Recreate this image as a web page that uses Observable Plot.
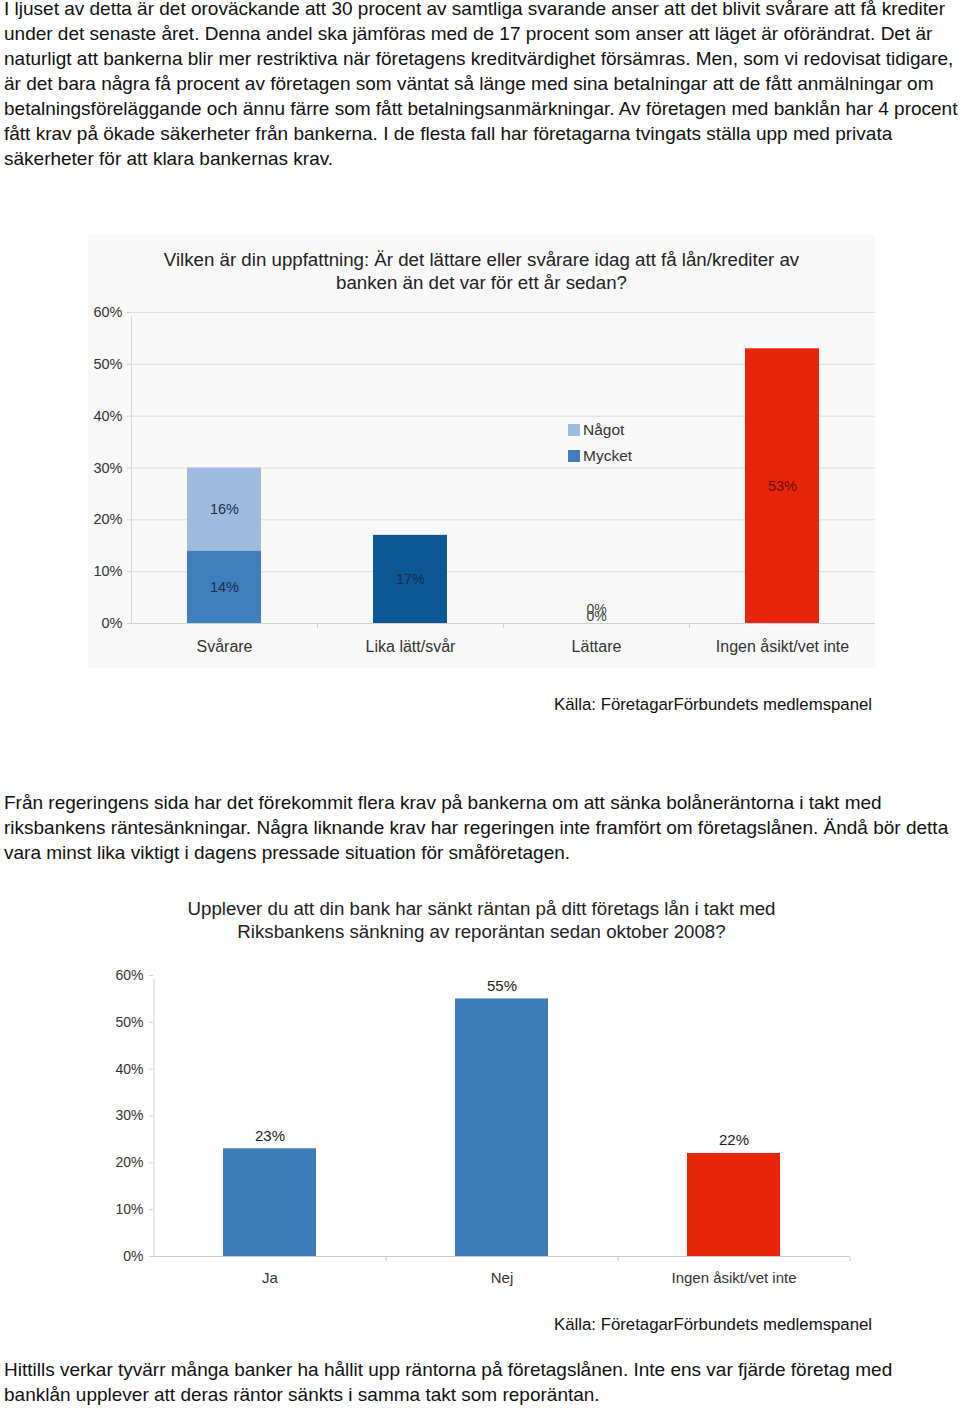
<!DOCTYPE html>
<html>
<head>
<meta charset="utf-8">
<script src="https://cdn.jsdelivr.net/npm/d3@7"></script>
<script src="https://cdn.jsdelivr.net/npm/@observablehq/plot@0.6"></script>
<style>
  html, body { margin: 0; padding: 0; background: #fff; }
  body { position: relative; width: 960px; height: 1410px; overflow: hidden;
         font-family: "Liberation Sans", Arial, Helvetica, sans-serif; color: #111; }
  .para { position: absolute; left: 4px; font-size: 19px; line-height: 25px; white-space: nowrap; }
  .src { position: absolute; left: 554px; font-size: 16.8px; line-height: 20px; white-space: nowrap; color: #111; }
  .title { position: absolute; left: 88px; width: 787px; text-align: center; font-size: 18.7px; line-height: 23px; color: #222; white-space: nowrap; }
  .chartbox { position: absolute; }
  .legend { position: absolute; font-size: 15.5px; color: #333; line-height: 20px; }
  .legend .item { display: flex; align-items: center; height: 26px; }
  .legend .sw { width: 12px; height: 12px; margin-right: 3px; display: inline-block; }
</style>
</head>
<body>
<div class="para" style="top:-4px">
I ljuset av detta är det oroväckande att 30 procent av samtliga svarande anser att det blivit svårare att få krediter<br>
under det senaste året. Denna andel ska jämföras med de 17 procent som anser att läget är oförändrat. Det är<br>
naturligt att bankerna blir mer restriktiva när företagens kreditvärdighet försämras. Men, som vi redovisat tidigare,<br>
är det bara några få procent av företagen som väntat så länge med sina betalningar att de fått anmälningar om<br>
betalningsföreläggande och ännu färre som fått betalningsanmärkningar. Av företagen med banklån har 4 procent<br>
fått krav på ökade säkerheter från bankerna. I de flesta fall har företagarna tvingats ställa upp med privata<br>
säkerheter för att klara bankernas krav.
</div>

<div style="position:absolute; left:88px; top:235px; width:787px; height:433px; background:#f9f9f9;"></div>
<div class="title" style="top:248px">Vilken är din uppfattning: Är det lättare eller svårare idag att få lån/krediter av<br>banken än det var för ett år sedan?</div>
<div id="chart1" class="chartbox" style="left:88px; top:295px;"></div>
<div class="legend" id="legend1" style="left:568px; top:417px;"></div>
<div class="src" style="top:695px">Källa: FöretagarFörbundets medlemspanel</div>

<div class="para" style="top:790px">
Från regeringens sida har det förekommit flera krav på bankerna om att sänka bolåneräntorna i takt med<br>
riksbankens räntesänkningar. Några liknande krav har regeringen inte framfört om företagslånen. Ändå bör detta<br>
vara minst lika viktigt i dagens pressade situation för småföretagen.
</div>

<div class="title" style="top:897px">Upplever du att din bank har sänkt räntan på ditt företags lån i takt med<br>Riksbankens sänkning av reporäntan sedan oktober 2008?</div>
<div id="chart2" class="chartbox" style="left:88px; top:955px;"></div>
<div class="src" style="top:1315px">Källa: FöretagarFörbundets medlemspanel</div>

<div class="para" style="top:1357px">
Hittills verkar tyvärr många banker ha hållit upp räntorna på företagslånen. Inte ens var fjärde företag med<br>
banklån upplever att deras räntor sänkts i samma takt som reporäntan.
</div>

<script>
// ---------- Data ----------
const cats1 = ["Svårare", "Lika lätt/svår", "Lättare", "Ingen åsikt/vet inte"];
const mycket1 = [14, null, 0, null];   // "Mycket"
const nagot1  = [16, null, 0, null];   // "Något"
const single1 = [null, 17, null, 53];  // single-segment bars
const legend1 = ["Något", "Mycket"];

const cats2 = ["Ja", "Nej", "Ingen åsikt/vet inte"];
const values2 = [23, 55, 22];

const yTicks = [0, 10, 20, 30, 40, 50, 60];

// ---------- Styles ----------
const FONT = "'Liberation Sans', Arial, Helvetica, sans-serif";
const segColors = {
  "Mycket": "#3d80bb",
  "Något": "#9fbcdf",
  "Lika lätt/svår": "#0b5894",
  "Ingen åsikt/vet inte": "#e8250b"
};

// ---------- Chart 1 ----------
const rows1 = [];
cats1.forEach((c, i) => {
  if (mycket1[i] != null) rows1.push({cat: c, seg: "Mycket", v: mycket1[i]});
  if (nagot1[i] != null) rows1.push({cat: c, seg: "Något", v: nagot1[i]});
  if (single1[i] != null) rows1.push({cat: c, seg: c, v: single1[i]});
});

const W1 = 787, H1 = 373, ML1 = 43, MR1 = 0, MT1 = 17, MB1 = 45;
const step1 = (W1 - ML1 - MR1) / cats1.length;
const segDomain = Object.keys(segColors);

const chart1 = Plot.plot({
  width: W1, height: H1,
  marginLeft: ML1, marginRight: MR1, marginTop: MT1, marginBottom: MB1,
  style: {background: "transparent", fontFamily: FONT, fontSize: "14px", color: "#333"},
  x: {domain: cats1, paddingInner: 0.6, paddingOuter: 0.3, label: null},
  y: {domain: [0, 60], label: null},
  color: {domain: segDomain, range: segDomain.map(k => segColors[k])},
  marks: [
    Plot.gridY(yTicks, {stroke: "#dedede", strokeOpacity: 1}),
    Plot.ruleY([0], {stroke: "#d0d0d0"}),
    Plot.ruleX([cats1[0]], {dx: -step1 / 2, y1: 0, y2: 60, stroke: "#d8d8d8", insetBottom: -4}),
    Plot.ruleX(cats1, {dx: step1 / 2, y1: 0, y2: 0, insetBottom: -5, stroke: "#d0d0d0"}),
    Plot.barY(rows1, Plot.stackY({x: "cat", y: "v", z: "seg", fill: "seg"})),
    Plot.text(rows1, Plot.stackY({x: "cat", y: "v", z: "seg", text: d => d.v + "%",
      filter: d => d.v > 0 && d.seg !== "Ingen åsikt/vet inte", fill: "#1b2b4a", fontSize: 14.5})),
    Plot.text(rows1, Plot.stackY({x: "cat", y: "v", z: "seg", text: d => d.v + "%",
      filter: d => d.v > 0 && d.seg === "Ingen åsikt/vet inte", fill: "#6a1206", fontSize: 14.5})),
    Plot.text(rows1.filter(d => d.v === 0 && d.seg === "Mycket"), {x: "cat", y: "v", text: d => d.v + "%", dy: -7, fill: "#444", fontSize: 14}),
    Plot.text(rows1.filter(d => d.v === 0 && d.seg === "Något"), {x: "cat", y: "v", text: d => d.v + "%", dy: -14, fill: "#444", fontSize: 14}),
    Plot.axisY(yTicks, {tickSize: 4, tickPadding: 5, tickFormat: d => d + "%", stroke: "#d0d0d0", fill: "#333", fontSize: 14.5}),
    Plot.axisX({tickSize: 0, tickPadding: 17, fill: "#333", fontSize: 16})
  ]
});
document.getElementById("chart1").appendChild(chart1);

// legend 1
const lg = document.getElementById("legend1");
legend1.forEach(k => {
  const it = document.createElement("div");
  it.className = "item";
  const sw = document.createElement("span");
  sw.className = "sw";
  sw.style.background = segColors[k];
  it.appendChild(sw);
  it.appendChild(document.createTextNode(k));
  lg.appendChild(it);
});

// ---------- Chart 2 ----------
const rows2 = cats2.map((c, i) => ({cat: c, v: values2[i]}));
const W2 = 787, H2 = 346, ML2 = 65, MR2 = 26, MT2 = 20, MB2 = 45;
const step2 = (W2 - ML2 - MR2) / cats2.length;

const chart2 = Plot.plot({
  width: W2, height: H2,
  marginLeft: ML2, marginRight: MR2, marginTop: MT2, marginBottom: MB2,
  style: {background: "transparent", fontFamily: FONT, fontSize: "14px", color: "#333"},
  x: {domain: cats2, paddingInner: 0.6, paddingOuter: 0.3, label: null},
  y: {domain: [0, 60], label: null},
  color: {domain: cats2, range: ["#3c7dba", "#3c7dba", "#e8250b"]},
  marks: [
    Plot.ruleY([0], {stroke: "#c8c8c8"}),
    Plot.ruleX([cats2[0]], {dx: -step2 / 2, y1: 0, y2: 60, stroke: "#d0d0d0", insetBottom: -4}),
    Plot.ruleX(cats2, {dx: step2 / 2, y1: 0, y2: 0, insetBottom: -5, stroke: "#c8c8c8"}),
    Plot.barY(rows2, {x: "cat", y: "v", fill: "cat"}),
    Plot.text(rows2, {x: "cat", y: "v", text: d => d.v + "%", dy: -13, fill: "#222", fontSize: 15}),
    Plot.axisY(yTicks, {tickSize: 4, tickPadding: 6, tickFormat: d => d + "%", stroke: "#d0d0d0", fill: "#333", fontSize: 14}),
    Plot.axisX({tickSize: 0, tickPadding: 16, fill: "#333", fontSize: 15})
  ]
});
document.getElementById("chart2").appendChild(chart2);
</script>
</body>
</html>
